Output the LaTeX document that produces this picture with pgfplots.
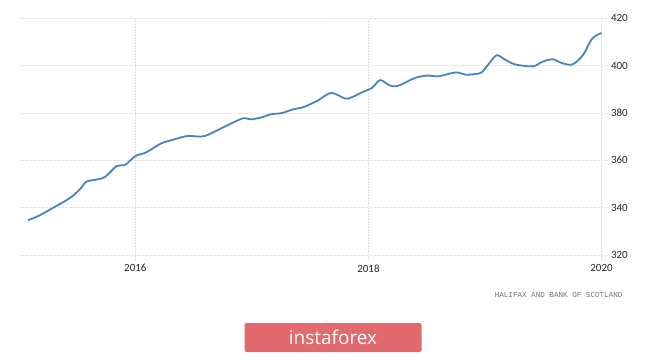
\documentclass[border=0pt]{standalone}
\usepackage{fontspec}
\setmainfont{Carlito}
\newfontfamily\osans{Open Sans}
\newfontfamily\lmono{Liberation Mono}
\usepackage{pgfplots}
\pgfplotsset{compat=1.18}
\definecolor{serieblue}{RGB}{70,132,190}
\definecolor{wmred}{RGB}{226,106,111}
\pgfplotstableread{
x y
2015.08 334.7
2015.18 336.8
2015.30 340.1
2015.41 343.2
2015.47 345.3
2015.53 348.1
2015.58 351.0
2015.67 351.9
2015.74 353.0
2015.84 357.6
2015.91 358.0
2016.00 361.8
2016.09 363.3
2016.22 367.1
2016.33 368.8
2016.45 370.3
2016.59 370.2
2016.76 374.1
2016.92 377.7
2016.99 377.3
2017.08 378.1
2017.16 379.4
2017.26 380.0
2017.35 381.5
2017.45 382.6
2017.57 385.4
2017.68 388.5
2017.80 386.1
2017.85 386.5
2017.94 388.6
2018.03 390.6
2018.10 393.9
2018.18 391.7
2018.24 391.3
2018.31 392.7
2018.40 394.8
2018.50 395.8
2018.60 395.5
2018.72 396.9
2018.77 397.1
2018.83 396.2
2018.91 396.4
2018.97 397.1
2019.03 400.6
2019.10 404.4
2019.17 402.6
2019.26 400.5
2019.41 399.7
2019.49 401.6
2019.58 402.7
2019.66 401.1
2019.75 400.5
2019.84 404.4
2019.92 411.4
2020.00 413.8
}\hpi
\begin{document}
\begin{tikzpicture}
\path[use as bounding box] (0,0) rectangle (665pt,-354pt);
\begin{axis}[
  at={(20pt,-255pt)}, anchor=south west,
  scale only axis, width=581.5pt, height=236.7pt,
  xmin=2015.01, xmax=2020, ymin=320, ymax=420,
  axis line style={draw=none},
  xtick={2016,2018,2020}, ytick={320,340,...,420},
  xtick pos=lower, ytick pos=right, yticklabel pos=right,
  grid=major,
  grid style={dash pattern=on 0.7pt off 0.9pt, black!13, line width=0.7pt},
  tick style={dash pattern=on 0.7pt off 0.9pt, black!13, line width=0.7pt},
  major tick length=6pt, tick align=outside,
  ticklabel style={font=\fontsize{11}{12}\selectfont, text=black!85},
  /pgf/number format/assume math mode=true,
  /pgf/number format/1000 sep={},
  clip=false,
]
\addplot[serieblue, line width=1.8pt, smooth, tension=0.5] table[x=x,y=y] {\hpi};
\end{axis}
\node[anchor=east, font=\lmono\fontsize{7.6}{8}\selectfont, text=black!55] at (626pt,-295pt) {HALIFAX AND BANK OF SCOTLAND};
\node[fill=wmred, rounded corners=1.5pt, minimum width=177pt, minimum height=29pt, inner sep=0pt, text=white, font=\osans\fontsize{19}{20}\selectfont] at (333pt,-337.5pt) {instaforex};
\end{tikzpicture}
\end{document}
